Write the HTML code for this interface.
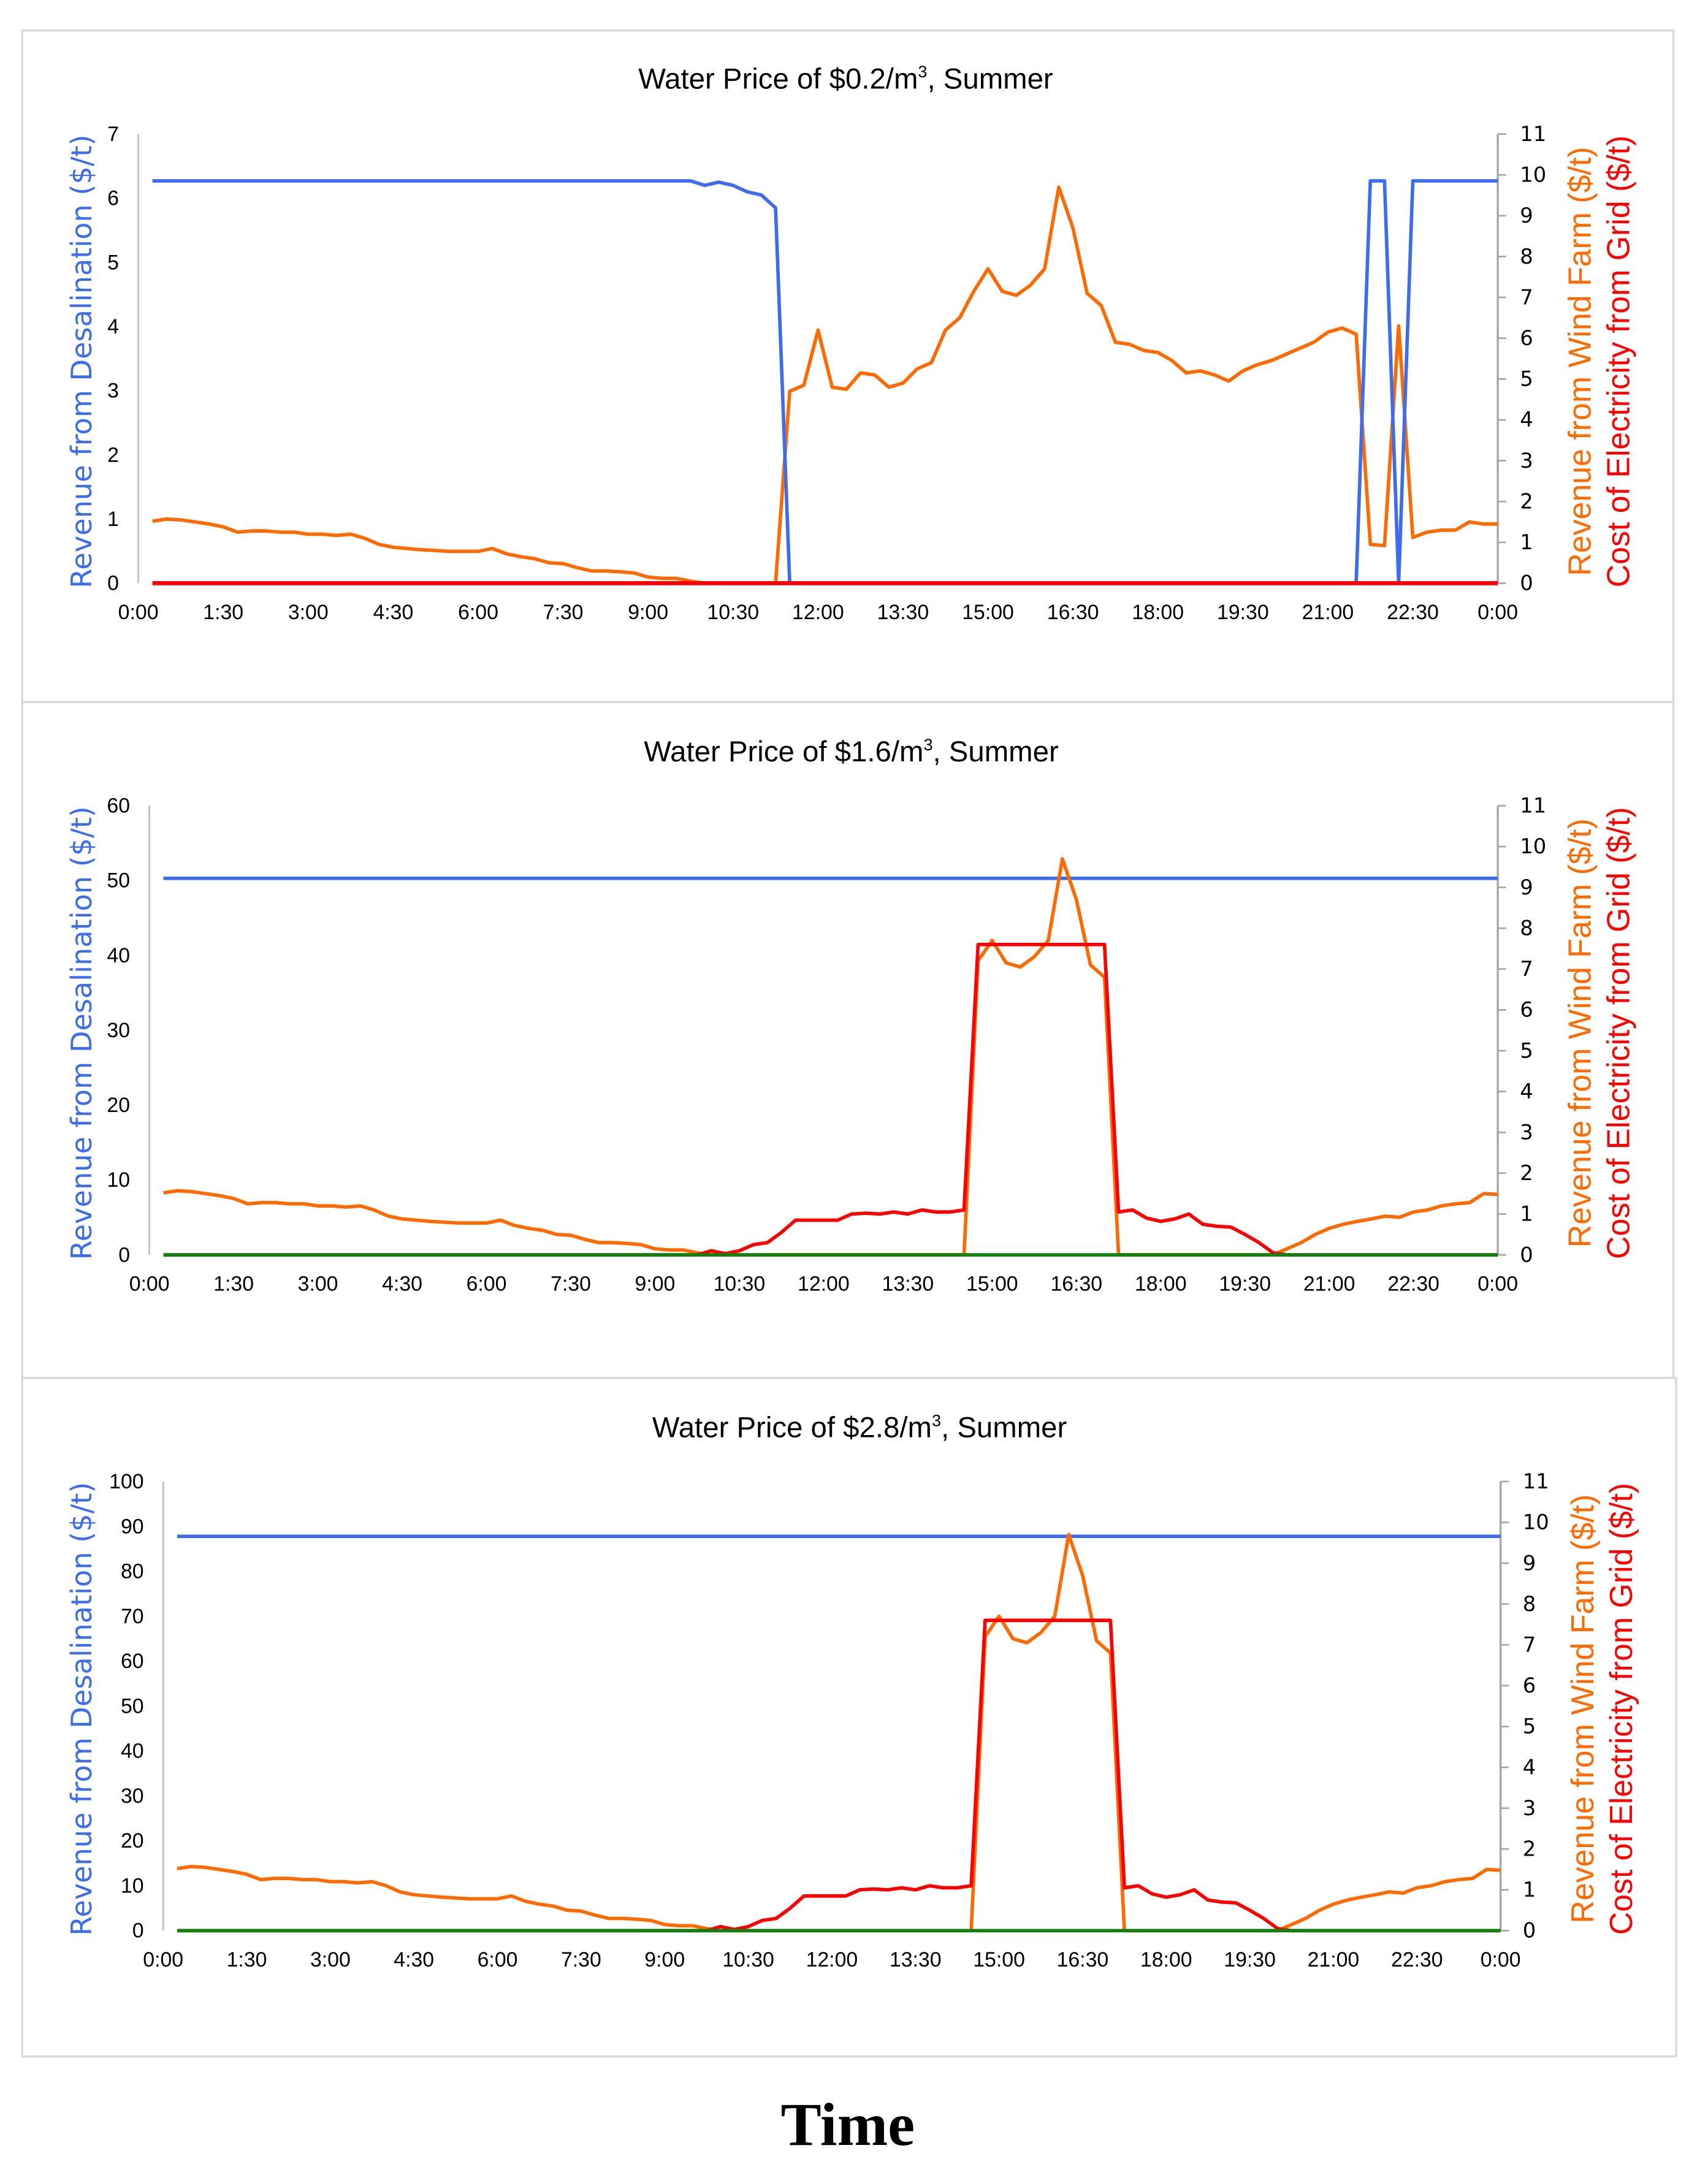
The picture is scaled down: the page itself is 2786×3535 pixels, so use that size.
<!DOCTYPE html>
<html><head><meta charset="utf-8"><style>
html,body{margin:0;padding:0;background:#fff;}
svg{display:block;}
</style></head><body>
<svg id="fig" xmlns="http://www.w3.org/2000/svg" width="2786" height="3535" viewBox="0 0 1235 1568" preserveAspectRatio="none">
<rect x="0" y="0" width="1235" height="1568" fill="#fff"/>
<g id="root"></g>
<text x="613" y="1552" text-anchor="middle" font-family="Liberation Serif, serif" font-weight="bold" font-size="44">Time</text>
</svg>
<script>
const timeLabels = ["0:00","1:30","3:00","4:30","6:00","7:30","9:00","10:30","12:00","13:30","15:00","16:30","18:00","19:30","21:00","22:30","0:00"];
const rightTicks = [0,1,2,3,4,5,6,7,8,9,10,11];
// 96 samples at 15-min steps, 0:15 .. 24:00
const morningWind = [1.52,1.57,1.55,1.5,1.45,1.38,1.25,1.28,1.28,1.25,1.25,1.2,1.2,1.17,1.2,1.1,0.95,0.88,0.85,0.82,0.8,0.78,0.78,0.78,0.85,0.72,0.65,0.6,0.5,0.48,0.38,0.3,0.3,0.28,0.25,0.15,0.12,0.12,0.05,0];
const p1Wind = morningWind.concat([0,0,0,0,0,4.7,4.85,6.2,4.8,4.75,5.15,5.1,4.8,4.9,5.25,5.4,6.2,6.5,7.15,7.7,7.15,7.05,7.3,7.7,9.7,8.7,7.1,6.8,5.9,5.85,5.7,5.65,5.45,5.15,5.2,5.1,4.95,5.2,5.35,5.45,5.6,5.75,5.9,6.15,6.25,6.1,0.95,0.92,6.3,1.12,1.25,1.3,1.3,1.5,1.45,1.45]);
const p1Desal = [6.27,6.27,6.27,6.27,6.27,6.27,6.27,6.27,6.27,6.27,6.27,6.27,6.27,6.27,6.27,6.27,6.27,6.27,6.27,6.27,6.27,6.27,6.27,6.27,6.27,6.27,6.27,6.27,6.27,6.27,6.27,6.27,6.27,6.27,6.27,6.27,6.27,6.27,6.27,6.2,6.25,6.2,6.1,6.05,5.85,0,0,0,0,0,0,0,0,0,0,0,0,0,0,0,0,0,0,0,0,0,0,0,0,0,0,0,0,0,0,0,0,0,0,0,0,0,0,0,0,0,6.27,6.27,0,6.27,6.27,6.27,6.27,6.27,6.27,6.27];
const p1Grid = new Array(96).fill(0);
const p2Wind = morningWind.concat([0,0,0,0,0,0,0,0,0,0,0,0,0,0,0,0,0,0,7.2,7.7,7.15,7.05,7.3,7.7,9.7,8.7,7.1,6.8,0,0,0,0,0,0,0,0,0,0,0,0,0.15,0.3,0.5,0.65,0.75,0.82,0.88,0.95,0.92,1.05,1.1,1.2,1.25,1.28,1.5,1.48]);
const p2Grid = new Array(39).fill(0).concat([0.1,0.03,0.1,0.25,0.3,0.55,0.85,0.85,0.85,0.85,1.0,1.02,1.0,1.05,1.0,1.1,1.05,1.05,1.1,7.6,7.6,7.6,7.6,7.6,7.6,7.6,7.6,7.6,7.6,1.05,1.1,0.9,0.82,0.88,1.0,0.75,0.7,0.68,0.5,0.3,0.05,0,0,0,0,0,0,0,0,0,0,0,0,0,0,0,0]);
const p2Desal = new Array(96).fill(50.3);
const p3Desal = new Array(96).fill(87.8);
const greenZero = new Array(96).fill(0);

const NS="http://www.w3.org/2000/svg";
const root=document.getElementById('root');
function mk(tag,attrs,parent){const e=document.createElementNS(NS,tag);for(const k in attrs)e.setAttribute(k,attrs[k]);(parent||root).appendChild(e);return e;}

function panel(cfg){
  const g=mk('g',{});
  
  
  const box=mk('rect',{x:cfg.bx,y:cfg.by,width:cfg.bw,height:cfg.bh,fill:'none',stroke:'#d9d9d9','stroke-width':1.5},g);
  
  
  const L=cfg.L,R=cfg.R,T=cfg.T,B=cfg.B;
  const xs=t=>L+(t/24)*(R-L);
  const yl=v=>B-(v/cfg.lmax)*(B-T);
  const yr=v=>B-(v/11)*(B-T);
  const title=mk('text',{x:(L+R)/2+20,y:cfg.ty,'text-anchor':'middle','font-family':'Liberation Sans, sans-serif','font-size':21,fill:'#000'},g);
  
  
  title.innerHTML=cfg.title+'/m<tspan dy="-8" font-size="12">3</tspan><tspan dy="8">, Summer</tspan>';
  const la=mk('line',{x1:L,y1:T,x2:L,y2:B,stroke:'#bfbfbf','stroke-width':1.2},g);
  
  
  const ra=mk('line',{x1:R,y1:T,x2:R,y2:B,stroke:'#a6a6a6','stroke-width':1.5},g);
  
  
  cfg.lticks.forEach(v=>{
    const t=mk('text',{x:L-14,y:yl(v)+5,'text-anchor':'end','font-family':'Liberation Sans, sans-serif','font-size':15,fill:'#000'},g);
    
    
    t.textContent=v;
  });
  rightTicks.forEach(v=>{
    const tk=mk('line',{x1:R,y1:yr(v),x2:R+6,y2:yr(v),stroke:'#a6a6a6','stroke-width':1.2},g);
    
    
    const t=mk('text',{x:R+16,y:yr(v)+5,'text-anchor':'start','font-family':'DejaVu Sans, sans-serif','font-size':15,fill:'#000'},g);
    
    
    t.textContent=v;
  });
  timeLabels.forEach((s,i)=>{
    const t=mk('text',{x:xs(i*1.5),y:B+26,'text-anchor':'middle','font-family':'Liberation Sans, sans-serif','font-size':15,fill:'#000'},g);
    
    
    t.textContent=s;
  });
  const cy=(T+B)/2+2;
  const lt=mk('text',{x:0,y:0,transform:`translate(66,${cy}) rotate(-90)`,'text-anchor':'middle','font-family':'DejaVu Sans, sans-serif','font-size':20.5,fill:'#3c6cf0'},g);
  
  
  lt.textContent='Revenue from Desalination ($/t)';
  const rt1=mk('text',{x:0,y:0,transform:`translate(${R+67},${cy}) rotate(-90)`,'text-anchor':'middle','font-family':'Liberation Sans, sans-serif','font-size':23,fill:'#ff6a00'},g);
  
  
  rt1.textContent='Revenue from Wind Farm ($/t)';
  const rt2=mk('text',{x:0,y:0,transform:`translate(${R+95},${cy}) rotate(-90)`,'text-anchor':'middle','font-family':'Liberation Sans, sans-serif','font-size':23,fill:'#ff0000'},g);
  
  
  rt2.textContent='Cost of Electricity from Grid ($/t)';
  function line(arr,yf,color,w,name){
    const pts=arr.map((v,i)=>xs((i+1)*0.25).toFixed(2)+','+yf(v).toFixed(2)).join(' ');
    const p=mk('polyline',{points:pts,fill:'none',stroke:color,'stroke-width':w,'stroke-linejoin':'round'},g);
    
    
  }
  cfg.series.forEach(s=>line(s.d,s.axis==='l'?yl:yr,s.c,s.w,s.n));
}

panel({name:'panel-water-0-2',bx:16,by:22,bw:1194,bh:486,L:100,R:1083,T:97,B:422,ty:64,lmax:7,lticks:[0,1,2,3,4,5,6,7],title:'Water Price of $0.2',
  series:[{d:p1Wind,axis:'r',c:'#ff6a00',w:2.5,n:'wind-revenue-line'},{d:p1Desal,axis:'l',c:'#3c6cf0',w:2.5,n:'desalination-revenue-line'},{d:p1Grid,axis:'r',c:'#ff0000',w:3,n:'grid-cost-line'}]});
panel({name:'panel-water-1-6',bx:16,by:508,bw:1194,bh:489,L:108,R:1083,T:583,B:908,ty:551,lmax:60,lticks:[0,10,20,30,40,50,60],title:'Water Price of $1.6',
  series:[{d:p2Desal,axis:'l',c:'#3c6cf0',w:2.5,n:'desalination-revenue-line'},{d:p2Wind,axis:'r',c:'#ff6a00',w:2.5,n:'wind-revenue-line'},{d:p2Grid,axis:'r',c:'#ff0000',w:2.5,n:'grid-cost-line'},{d:greenZero,axis:'l',c:'#108010',w:2.5,n:'zero-line'}]});
panel({name:'panel-water-2-8',bx:16,by:997,bw:1196,bh:491,L:118,R:1085,T:1072,B:1397,ty:1040,lmax:100,lticks:[0,10,20,30,40,50,60,70,80,90,100],title:'Water Price of $2.8',
  series:[{d:p3Desal,axis:'l',c:'#3c6cf0',w:2.5,n:'desalination-revenue-line'},{d:p2Wind,axis:'r',c:'#ff6a00',w:2.5,n:'wind-revenue-line'},{d:p2Grid,axis:'r',c:'#ff0000',w:2.5,n:'grid-cost-line'},{d:greenZero,axis:'l',c:'#108010',w:2.5,n:'zero-line'}]});
</script>
</body></html>
